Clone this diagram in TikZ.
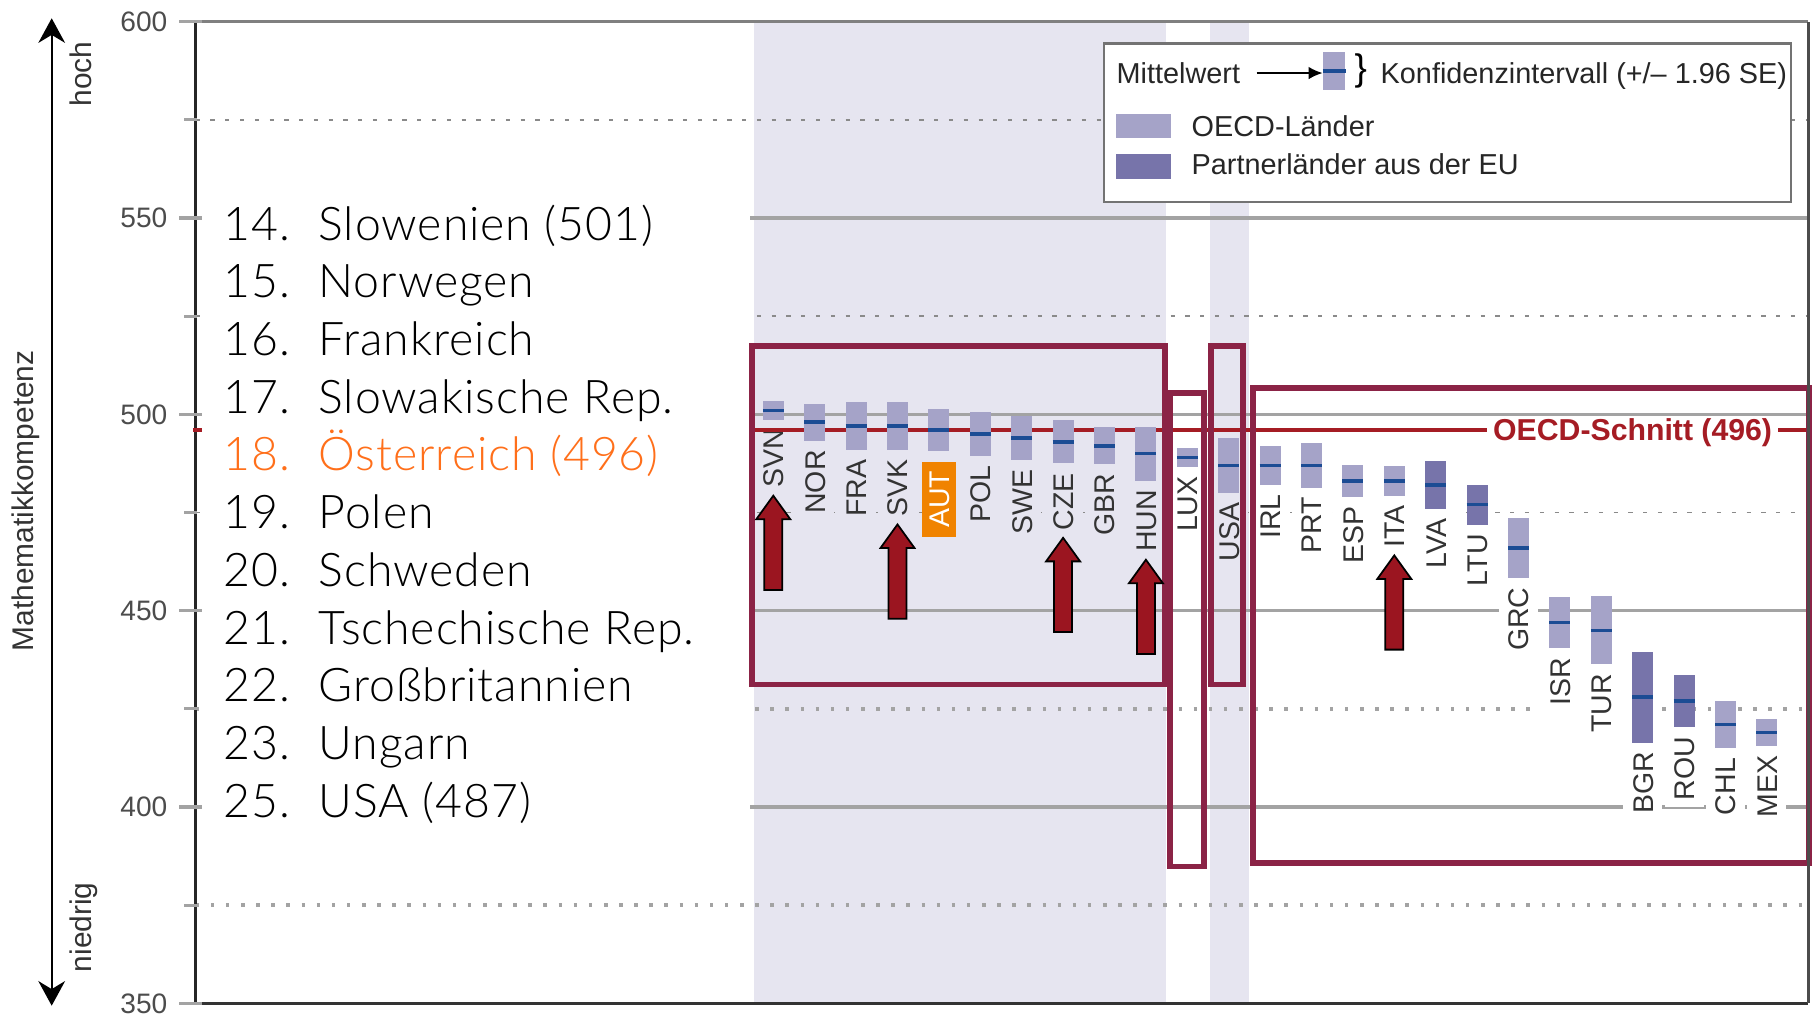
\documentclass[tikz,border=0pt]{standalone}
\usepackage{fontspec}
\setmainfont{Liberation Sans}
\newfontfamily\listfont{Lato}[UprightFont={* Light}, LetterSpace=2]
\usetikzlibrary{arrows.meta,calc}

\definecolor{bandlav}{HTML}{E6E5F0}
\definecolor{barlight}{HTML}{A5A3C8}
\definecolor{bardark}{HTML}{7774AA}
\definecolor{meanblue}{HTML}{1C4C94}
\definecolor{gridgray}{HTML}{A3A3A3}
\definecolor{dashgray}{HTML}{8A8A8A}
\definecolor{oecdred}{HTML}{A51C24}
\definecolor{boxmaroon}{HTML}{8B2346}
\definecolor{arrowred}{HTML}{9B1520}
\definecolor{autorange}{HTML}{F08300}
\definecolor{listorange}{HTML}{FF6F1A}
\definecolor{labelgray}{HTML}{333333}

\tikzset{
  gridsolid/.style={gridgray, line width=0.9pt},
  griddash/.style={dashgray, line width=0.45pt, dash pattern=on 1.2pt off 3pt},
  griddot/.style={gridgray, line width=1pt, dash pattern=on 1pt off 3.3pt},
  ticklabel/.style={anchor=east, font=\fontsize{8}{9}\selectfont, text=black!70, inner sep=0pt},
  clabel/.style={rotate=90, anchor=east, font=\fontsize{8.1}{9}\selectfont, text=labelgray,
    inner xsep=2pt, inner ysep=2.6pt, text height=5.9pt, text depth=0pt},
  lblband/.style={clabel, fill=bandlav},
  lblwhite/.style={clabel, fill=white},
  lblaut/.style={clabel, fill=autorange, text=white, inner xsep=2.6pt, inner ysep=1.8pt, outer xsep=2.5pt},
  meanline/.style={meanblue, line width=1pt},
  hibox/.style={boxmaroon, line width=1.6pt},
  warnarrow/.style={draw=black, fill=arrowred, line width=0.5pt, line join=miter},
  pics/redarrow/.style={code={
    \draw[warnarrow] (0,0) -- (17,-6) -- (9,-6) -- (9,-24) -- (-9,-24) -- (-9,-6) -- (-17,-6) -- cycle;
  }},
  listtext/.style={anchor=base west, font=\listfont\fontsize{13.2}{15}\selectfont, inner sep=0pt},
  legtext/.style={anchor=base west, font=\fontsize{8.2}{9}\selectfont, text=black!85, inner sep=0pt},
  sidetext/.style={rotate=90, anchor=base, font=\fontsize{8.5}{9}\selectfont, text=black!80, inner sep=0pt},
}

% country / mean / SE / bar colour / label style
\def\countrydata{SVN/501/1.2/barlight/lblband, NOR/498/2.4/barlight/lblband,
  FRA/497/3.1/barlight/lblband, SVK/497/3.1/barlight/lblband, AUT/496/2.7/barlight/lblaut,
  POL/495/2.8/barlight/lblband, SWE/494/2.9/barlight/lblband, CZE/493/2.8/barlight/lblband,
  GBR/492/2.4/barlight/lblband, HUN/490/3.5/barlight/lblband, LUX/489/1.2/barlight/lblwhite,
  USA/487/3.6/barlight/lblband, IRL/487/2.5/barlight/lblwhite, PRT/487/2.9/barlight/lblwhite,
  ESP/483/2.1/barlight/lblwhite, ITA/483/1.9/barlight/lblwhite, LVA/482/3.1/bardark/lblwhite,
  LTU/477/2.6/bardark/lblwhite, GRC/466/3.9/barlight/lblwhite, ISR/447/3.3/barlight/lblwhite,
  TUR/445/4.4/barlight/lblwhite, BGR/428/5.9/bardark/lblwhite, ROU/427/3.4/bardark/lblwhite,
  CHL/421/3.1/barlight/lblwhite, MEX/419/1.8/barlight/lblwhite}

\begin{document}
\begin{tikzpicture}[x=0.01cm, y=0.03924cm]
    \useasboundingbox (0,346.6) rectangle (1814,605.53);

    % Set chart dimensions
    \pgfmathsetmacro{\axisx}{195.7}
    \pgfmathsetmacro{\rightx}{1808.3}
    \pgfmathsetmacro{\firstx}{773.3}
    \pgfmathsetmacro{\colstep}{41.4}
    \pgfmathsetmacro{\barw}{10.5}

    % Shaded columns
    \fill[bandlav] (754,350) rectangle (1165.7,599.6);
    \fill[bandlav] (1209.5,350) rectangle (1249,599.6);

    % Grid lines
    \foreach \v in {550,500,450,400}
        \draw[gridsolid] (\axisx,\v) -- (\rightx,\v);
    \foreach \v in {575,525,475}
        \draw[griddash] (\axisx,\v) -- (\rightx,\v);
    \foreach \v in {425,375}
        \draw[griddot] (\axisx,\v) -- (\rightx,\v);

    % Country labels under the bars
    \foreach \cc/\mw/\se/\barcol/\lblsty [count=\i from 0] in \countrydata {
        \pgfmathsetmacro{\xc}{\firstx+\colstep*\i}
        \pgfmathsetmacro{\hw}{1.96*\se}
        \node[\lblsty] (l\cc) at (\xc,\mw-\hw-0.5) {\cc};
    }

    % OECD mean line
    \draw[oecdred, line width=0.95pt] (\axisx,496) -- (\rightx,496);

    % White area behind the ranking list
    \fill[white] (202,388.9) rectangle (750,562.2);

    \node[font=\bfseries\fontsize{8.6}{9}\selectfont, text=oecdred, fill=white, inner xsep=1.7pt,
        inner ysep=0pt, text height=6.2pt, text depth=0pt] (oecdmean) at (1632.6,496) {OECD-Schnitt (496)};

    % Bars with confidence intervals
    \foreach \cc/\mw/\se/\barcol/\lblsty [count=\i from 0] in \countrydata {
        \pgfmathsetmacro{\xc}{\firstx+\colstep*\i}
        \pgfmathsetmacro{\hw}{1.96*\se}
        \fill[\barcol] (\xc-\barw,\mw-\hw) rectangle (\xc+\barw,\mw+\hw);
        \draw[meanline] (\xc-\barw,\mw) -- (\xc+\barw,\mw);
    }

    % Highlight boxes
    \draw[hibox] (752,517.35) rectangle (1164.7,431.22);
    \draw[hibox] (1170,505.5) rectangle (1204,384.84);
    \draw[hibox] (1210.8,517.35) rectangle (1242.8,431.22);
    \draw[hibox] (1252.8,506.78) rectangle (1809,385.73);

    % Arrows under the marked countries
    \foreach \cc in {SVN,SVK,CZE,HUN,ITA}
        \pic at (l\cc.west) {redarrow};

    % Frame and axis
    \draw[black!50, line width=1pt] (\axisx,600) -- (\rightx,600);
    \draw[black!80, line width=1pt] (\axisx,350) -- (\rightx,350);
    \draw[black!85, line width=0.8pt] (\axisx,350) -- (\axisx,600);
    \draw[black!70, line width=0.8pt] (\rightx,350) -- (\rightx,600);

    % Ticks and tick labels
    \foreach \v in {350,400,...,600} {
        \draw[gridgray, line width=0.9pt] (179,\v) -- (202,\v);
        \node[ticklabel] (t\v) at (168,\v) {\v};
    }
    \foreach \v in {375,425,...,575}
        \draw[gridgray, line width=0.9pt] (184,\v) -- (197,\v);
    \draw[oecdred, line width=0.95pt] (193,496) -- (202,496);

    % Legend
    \draw[black!55, fill=white, line width=0.6pt] (1104,594.44) rectangle (1791,554.05);
    \node[legtext] (mw) at (1116,584.3) {Mittelwert};
    \node[fill=barlight, minimum width=0.22cm, minimum height=0.38cm, inner sep=0pt] (mb) at (1334.4,587.5) {};
    \draw[meanline] (mb.west) -- (mb.east);
    \draw[-{Latex[length=4pt,width=3.6pt]}, line width=0.6pt, shorten <=4.5pt] (mw.east) -- (mw.east -| mb.west);
    \node[anchor=west, inner sep=0pt, font=\fontsize{10.5}{11}\selectfont] (brace) at (1354,587.5) {\}};
    \node[legtext] (ki) at (1380,584.3) {Konfidenzintervall (+/– 1.96 SE)};
    \fill[barlight] (1116,576.4) rectangle (1171,570.3);
    \node[legtext] (oecdl) at (1191,570.87) {OECD-Länder};
    \fill[bardark] (1116,566.3) rectangle (1171,559.9);
    \node[legtext] (partl) at (1191,561.19) {Partnerländer aus der EU};

    % Vertical axis description
    \coordinate (hi) at (51.7,600.87);
    \coordinate (lo) at (51.7,349.41);
    \draw[{Stealth[length=7pt,width=7.6pt]}-{Stealth[length=7pt,width=7.6pt]}, line width=0.5pt] (lo) -- (hi);
    \node[sidetext] (hochl) at (91.5,586.67) {hoch};
    \node[sidetext] (niedl) at (91.5,369.37) {niedrig};
    \node[sidetext] (mk) at (33,478) {Mathematikkompetenz};

    % Ranking list
    \foreach \num/\name/\col [count=\k from 0] in {14./Slowenien (501)/black, 15./Norwegen/black,
        16./Frankreich/black, 17./Slowakische Rep./black, 18./Österreich (496)/listorange,
        19./Polen/black, 20./Schweden/black, 21./Tschechische Rep./black,
        22./Großbritannien/black, 23./Ungarn/black, 25./USA (487)/black} {
        \node[listtext, text=\col] (n\k) at (223,{544.37-14.697*\k}) {\num};
        \node[listtext, text=\col] (c\k) at (318,{544.37-14.697*\k}) {\name};
    }
\end{tikzpicture}
\end{document}
